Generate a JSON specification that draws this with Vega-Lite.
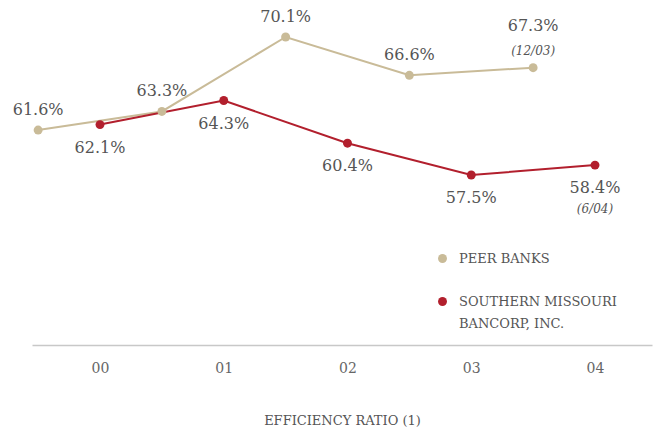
{
  "$schema": "https://vega.github.io/schema/vega-lite/v6.json",
  "width": 620,
  "height": 345,
  "autosize": {"type": "none"},
  "padding": {"left": 32, "top": 0, "right": 5, "bottom": 84},
  "background": "white",
  "config": {
    "view": {"stroke": null},
    "font": "DejaVu Serif",
    "style": {"guide-label": {"lineHeight": 22}}
  },
  "data": {
    "values": [
      {"series": "Peer Banks", "t": -0.5, "value": 61.6, "note": ""},
      {"series": "Peer Banks", "t": 0.5, "value": 63.3, "note": ""},
      {"series": "Peer Banks", "t": 1.5, "value": 70.1, "note": ""},
      {"series": "Peer Banks", "t": 2.5, "value": 66.6, "note": ""},
      {"series": "Peer Banks", "t": 3.5, "value": 67.3, "note": "(12/03)"},
      {"series": "Southern Missouri Bancorp, Inc.", "t": 0, "value": 62.1, "note": ""},
      {"series": "Southern Missouri Bancorp, Inc.", "t": 1, "value": 64.3, "note": ""},
      {"series": "Southern Missouri Bancorp, Inc.", "t": 2, "value": 60.4, "note": ""},
      {"series": "Southern Missouri Bancorp, Inc.", "t": 3, "value": 57.5, "note": ""},
      {"series": "Southern Missouri Bancorp, Inc.", "t": 4, "value": 58.4, "note": "(6/04)"}
    ]
  },
  "encoding": {
    "x": {
      "field": "t", "type": "quantitative",
      "scale": {"domain": [-0.5495, 4.4606], "nice": false, "zero": false},
      "axis": {
        "title": "EFFICIENCY RATIO (1)",
        "values": [0, 1, 2, 3, 4],
        "labelExpr": "'0' + datum.value",
        "ticks": false, "tickSize": 0, "grid": false,
        "domainColor": "#c8c8c8", "domainWidth": 1.5,
        "labelFont": "DejaVu Serif", "labelFontSize": 14, "labelColor": "#666666",
        "labelBaseline": "middle", "labelPadding": 23,
        "titleFont": "DejaVu Serif", "titleFontSize": 13, "titleFontWeight": "normal",
        "titleColor": "#555555", "titlePadding": 39
      }
    },
    "y": {
      "field": "value", "type": "quantitative",
      "scale": {"domain": [41.97, 73.48], "nice": false, "zero": false},
      "axis": null
    }
  },
  "layer": [
    {
      "mark": {"type": "line", "strokeWidth": 2},
      "encoding": {
        "color": {
          "field": "series", "type": "nominal",
          "scale": {"domain": ["Peer Banks", "Southern Missouri Bancorp, Inc."], "range": ["#c9bb98", "#b21f2d"]},
          "legend": {
            "title": null,
            "orient": "none",
            "legendX": 404,
            "legendY": 252,
            "direction": "vertical",
            "symbolType": "circle",
            "symbolSize": 80,
            "symbolStrokeWidth": 0,
            "labelFont": "DejaVu Serif",
            "labelFontSize": 13,
            "labelColor": "#555555",
            "labelOffset": 10,
            "labelLimit": 400,
            "rowPadding": 29,
            "labelExpr": "datum.value == 'Peer Banks' ? 'PEER BANKS' : ['SOUTHERN MISSOURI', 'BANCORP, INC.']"
          }
        }
      }
    },
    {
      "mark": {"type": "point", "filled": true, "opacity": 1, "size": 80, "shape": "circle"},
      "encoding": {
        "color": {
          "field": "series", "type": "nominal",
          "scale": {"domain": ["Peer Banks", "Southern Missouri Bancorp, Inc."], "range": ["#c9bb98", "#b21f2d"]},
          "legend": {
            "title": null,
            "orient": "none",
            "legendX": 404,
            "legendY": 252,
            "direction": "vertical",
            "symbolType": "circle",
            "symbolSize": 80,
            "symbolStrokeWidth": 0,
            "labelFont": "DejaVu Serif",
            "labelFontSize": 13,
            "labelColor": "#555555",
            "labelOffset": 10,
            "labelLimit": 400,
            "rowPadding": 29,
            "labelExpr": "datum.value == 'Peer Banks' ? 'PEER BANKS' : ['SOUTHERN MISSOURI', 'BANCORP, INC.']"
          }
        }
      }
    },
    {
      "transform": [{"filter": "datum.series == 'Peer Banks' && datum.note == ''"}],
      "mark": {"type": "text", "baseline": "middle", "dy": -20, "fontSize": 16, "color": "#555555", "font": "DejaVu Serif", "text": {"expr": "format(datum.value, '.1f') + '%'"}},
      "encoding": {}
    },
    {
      "transform": [{"filter": "datum.series == 'Peer Banks' && datum.note != ''"}],
      "mark": {"type": "text", "baseline": "middle", "dy": -42, "fontSize": 16, "color": "#555555", "font": "DejaVu Serif", "text": {"expr": "format(datum.value, '.1f') + '%'"}},
      "encoding": {}
    },
    {
      "transform": [{"filter": "datum.series == 'Peer Banks' && datum.note != ''"}],
      "mark": {"type": "text", "baseline": "middle", "dy": -17, "fontSize": 12, "fontStyle": "italic", "color": "#555555", "font": "DejaVu Serif"},
      "encoding": {"text": {"field": "note", "type": "nominal"}}
    },
    {
      "transform": [{"filter": "datum.series != 'Peer Banks'"}],
      "mark": {"type": "text", "baseline": "middle", "dy": 23, "fontSize": 16, "color": "#555555", "font": "DejaVu Serif", "text": {"expr": "format(datum.value, '.1f') + '%'"}},
      "encoding": {}
    },
    {
      "transform": [{"filter": "datum.series != 'Peer Banks' && datum.note != ''"}],
      "mark": {"type": "text", "baseline": "middle", "dy": 44, "fontSize": 12, "fontStyle": "italic", "color": "#555555", "font": "DejaVu Serif"},
      "encoding": {"text": {"field": "note", "type": "nominal"}}
    }
  ]
}
